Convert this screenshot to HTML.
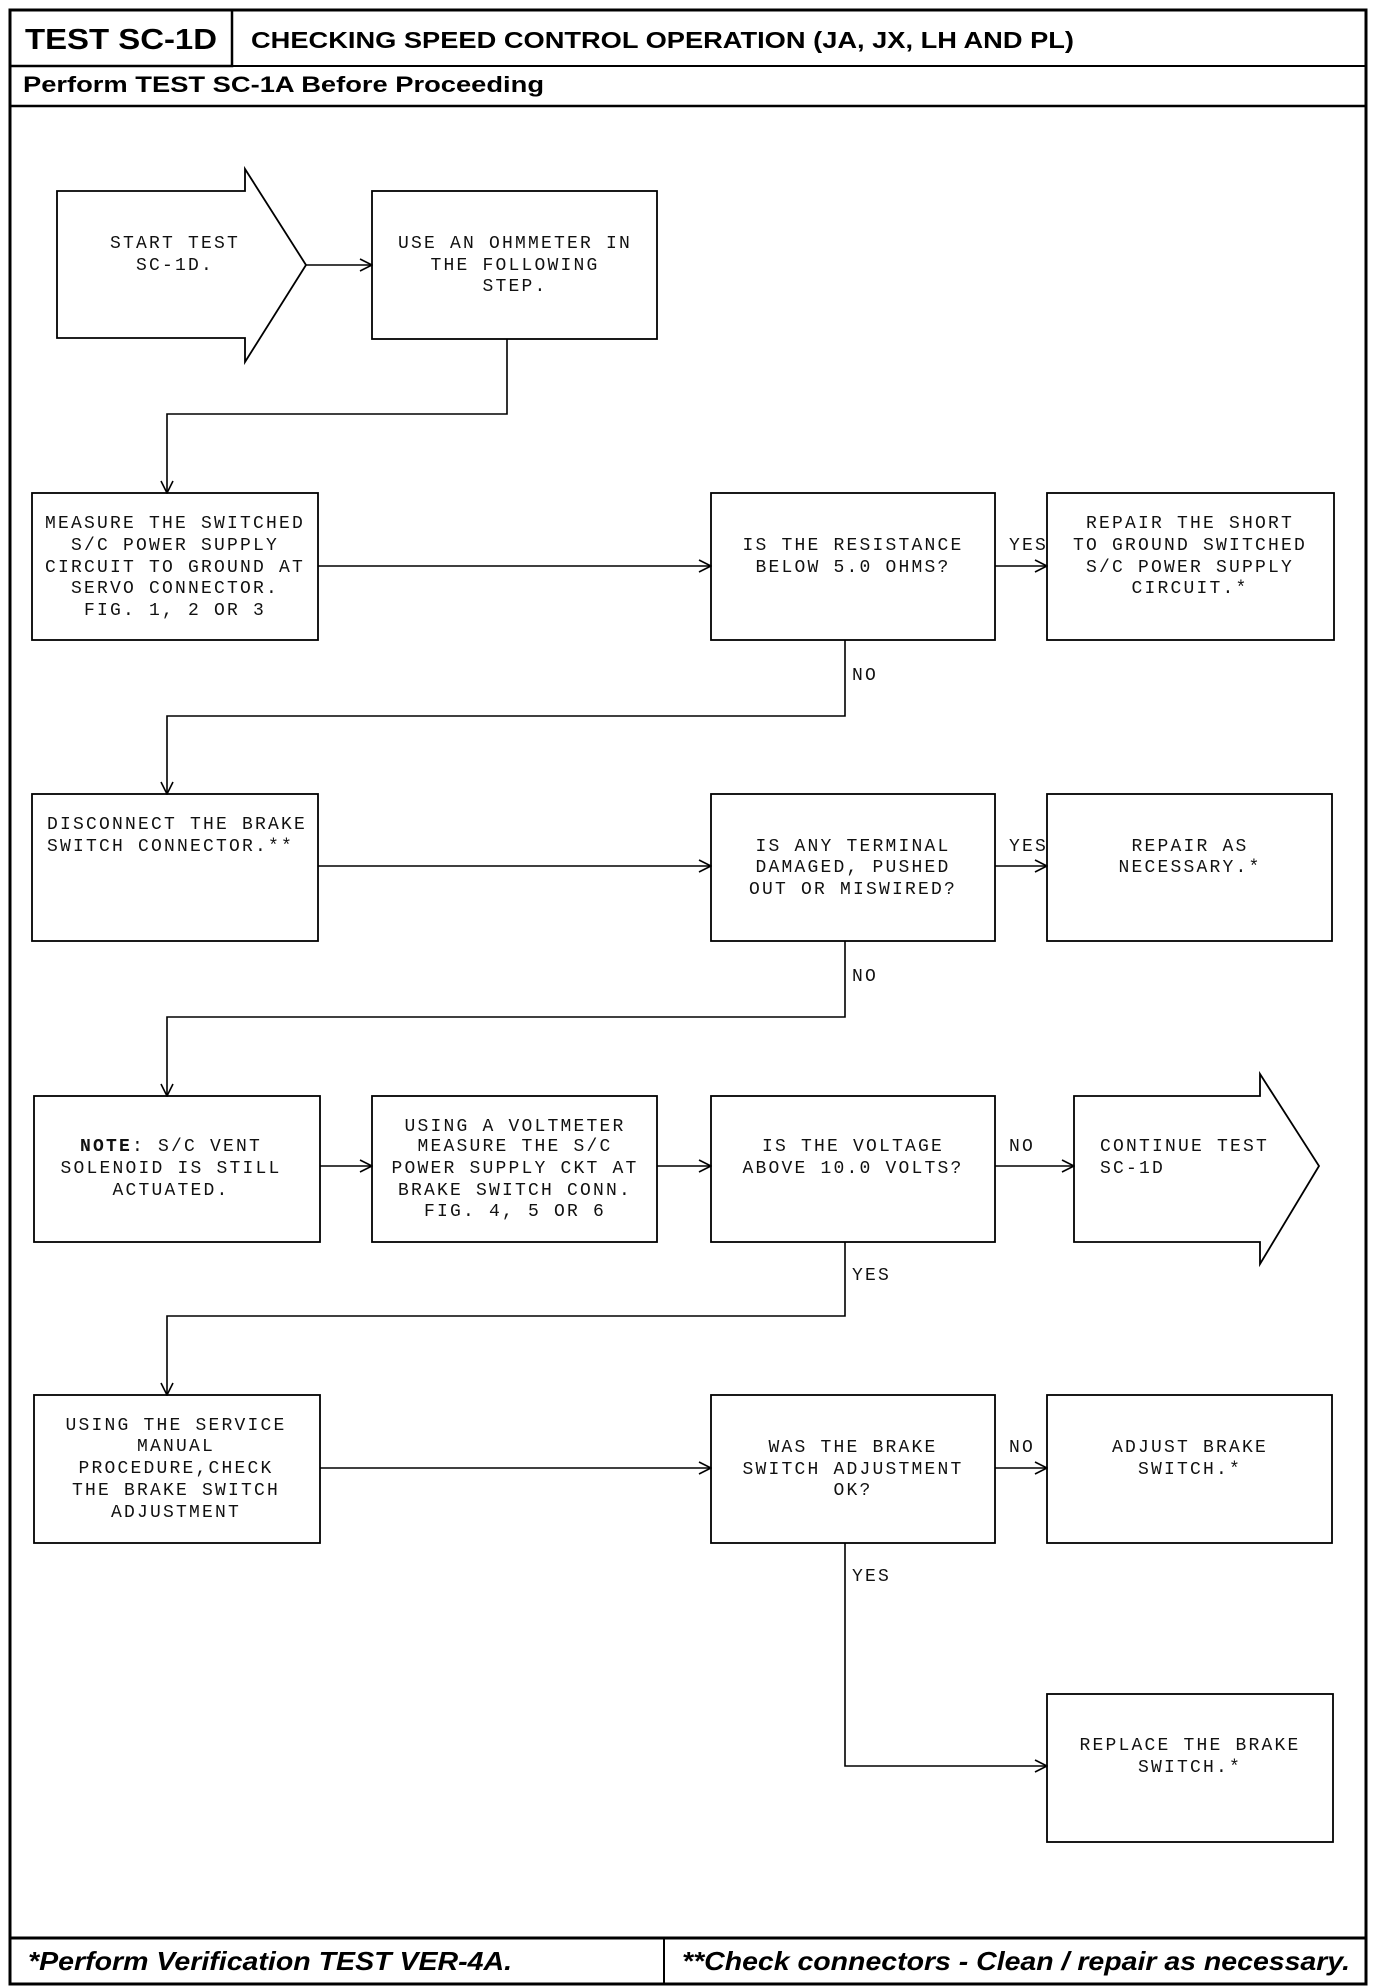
<!DOCTYPE html>
<html><head><meta charset="utf-8"><style>
html,body{margin:0;padding:0;background:#fff;}
svg{display:block;}
.m{font-family:"Liberation Mono",monospace;font-size:18px;letter-spacing:2.2px;fill:#111;}
.c{text-anchor:middle;}
.h{font-family:"Liberation Sans",sans-serif;font-weight:bold;fill:#000;}
</style></head><body>
<svg width="1376" height="1988" viewBox="0 0 1376 1988" xmlns="http://www.w3.org/2000/svg">
<defs>
<marker id="a" markerWidth="14" markerHeight="14" refX="13" refY="7" orient="auto" markerUnits="userSpaceOnUse">
<polyline points="1,1 13,7 1,13" fill="none" stroke="#000" stroke-width="1.6"/>
</marker>
</defs>
<g fill="none" stroke="#000">
<rect x="10" y="10" width="1356" height="1974" stroke-width="3"/>
<rect x="10" y="10" width="222" height="56" stroke-width="2.5"/>
<line x1="10" y1="66" x2="1366" y2="66" stroke-width="2"/>
<line x1="10" y1="106" x2="1366" y2="106" stroke-width="2.5"/>
<line x1="10" y1="1938" x2="1366" y2="1938" stroke-width="3"/>
<line x1="664" y1="1938" x2="664" y2="1984" stroke-width="2"/>
</g>
<text class="h" x="25" y="49" font-size="29" textLength="192" lengthAdjust="spacingAndGlyphs">TEST SC-1D</text>
<text class="h" x="251" y="48" font-size="23" textLength="823" lengthAdjust="spacingAndGlyphs">CHECKING SPEED CONTROL OPERATION (JA, JX, LH AND PL)</text>
<text class="h" x="23" y="92" font-size="22" textLength="521" lengthAdjust="spacingAndGlyphs">Perform TEST SC-1A Before Proceeding</text>
<text class="h" x="28" y="1970" font-size="26" font-style="italic" textLength="484" lengthAdjust="spacingAndGlyphs">*Perform Verification TEST VER-4A.</text>
<text class="h" x="682" y="1970" font-size="26" font-style="italic" textLength="668" lengthAdjust="spacingAndGlyphs">**Check connectors - Clean / repair as necessary.</text>

<g fill="none" stroke="#000" stroke-width="1.8">
<polygon points="57,191 245,191 245,169 306,265 245,362 245,338 57,338"/>
<rect x="372" y="191" width="285" height="148"/>
<rect x="32" y="493" width="286" height="147"/>
<rect x="711" y="493" width="284" height="147"/>
<rect x="1047" y="493" width="287" height="147"/>
<rect x="32" y="794" width="286" height="147"/>
<rect x="711" y="794" width="284" height="147"/>
<rect x="1047" y="794" width="285" height="147"/>
<rect x="34" y="1096" width="286" height="146"/>
<rect x="372" y="1096" width="285" height="146"/>
<rect x="711" y="1096" width="284" height="146"/>
<polygon points="1074,1096 1260,1096 1260,1074 1319,1166 1260,1264 1260,1242 1074,1242"/>
<rect x="34" y="1395" width="286" height="148"/>
<rect x="711" y="1395" width="284" height="148"/>
<rect x="1047" y="1395" width="285" height="148"/>
<rect x="1047" y="1694" width="286" height="148"/>
</g>
<g fill="none" stroke="#000" stroke-width="1.6" marker-end="url(#a)">
<line x1="306" y1="265" x2="372" y2="265"/>
<polyline points="507,339 507,414 167,414 167,493"/>
<line x1="318" y1="566" x2="711" y2="566"/>
<line x1="995" y1="566" x2="1047" y2="566"/>
<polyline points="845,640 845,716 167,716 167,794"/>
<line x1="318" y1="866" x2="711" y2="866"/>
<line x1="995" y1="866" x2="1047" y2="866"/>
<polyline points="845,941 845,1017 167,1017 167,1096"/>
<line x1="320" y1="1166" x2="372" y2="1166"/>
<line x1="657" y1="1166" x2="711" y2="1166"/>
<line x1="995" y1="1166" x2="1074" y2="1166"/>
<polyline points="845,1242 845,1316 167,1316 167,1395"/>
<line x1="320" y1="1468" x2="711" y2="1468"/>
<line x1="995" y1="1468" x2="1047" y2="1468"/>
<polyline points="845,1543 845,1766 1047,1766"/>
</g>

<g class="m c">
<text x="175" y="248">START TEST</text><text x="175" y="270">SC-1D.</text>
<text x="515" y="248">USE AN OHMMETER IN</text><text x="515" y="270">THE FOLLOWING</text><text x="515" y="291">STEP.</text>
<text x="175" y="528">MEASURE THE SWITCHED</text><text x="175" y="550">S/C POWER SUPPLY</text><text x="175" y="572">CIRCUIT TO GROUND AT</text><text x="175" y="593">SERVO CONNECTOR.</text><text x="175" y="615">FIG. 1, 2 OR 3</text>
<text x="853" y="550">IS THE RESISTANCE</text><text x="853" y="572">BELOW 5.0 OHMS?</text>
<text x="1190" y="528">REPAIR THE SHORT</text><text x="1190" y="550">TO GROUND SWITCHED</text><text x="1190" y="572">S/C POWER SUPPLY</text><text x="1190" y="593">CIRCUIT.*</text>
<text x="853" y="851">IS ANY TERMINAL</text><text x="853" y="872">DAMAGED, PUSHED</text><text x="853" y="894">OUT OR MISWIRED?</text>
<text x="1190" y="851">REPAIR AS</text><text x="1190" y="872">NECESSARY.*</text>
<text x="171" y="1151"><tspan font-weight="bold">NOTE</tspan>: S/C VENT</text><text x="171" y="1173">SOLENOID IS STILL</text><text x="171" y="1195">ACTUATED.</text>
<text x="515" y="1131">USING A VOLTMETER</text><text x="515" y="1151">MEASURE THE S/C</text><text x="515" y="1173">POWER SUPPLY CKT AT</text><text x="515" y="1195">BRAKE SWITCH CONN.</text><text x="515" y="1216">FIG. 4, 5 OR 6</text>
<text x="853" y="1151">IS THE VOLTAGE</text><text x="853" y="1173">ABOVE 10.0 VOLTS?</text>
<text x="176" y="1430">USING THE SERVICE</text><text x="176" y="1451">MANUAL</text><text x="176" y="1473">PROCEDURE,CHECK</text><text x="176" y="1495">THE BRAKE SWITCH</text><text x="176" y="1517">ADJUSTMENT</text>
<text x="853" y="1452">WAS THE BRAKE</text><text x="853" y="1474">SWITCH ADJUSTMENT</text><text x="853" y="1495">OK?</text>
<text x="1190" y="1452">ADJUST BRAKE</text><text x="1190" y="1474">SWITCH.*</text>
<text x="1190" y="1750">REPLACE THE BRAKE</text><text x="1190" y="1772">SWITCH.*</text>
</g>
<g class="m">
<text x="47" y="829">DISCONNECT THE BRAKE</text><text x="47" y="851">SWITCH CONNECTOR.**</text>
<text x="1100" y="1151">CONTINUE TEST</text><text x="1100" y="1173">SC-1D</text>
<text x="1009" y="550">YES</text>
<text x="852" y="680">NO</text>
<text x="1009" y="851">YES</text>
<text x="852" y="981">NO</text>
<text x="1009" y="1151">NO</text>
<text x="852" y="1280">YES</text>
<text x="1009" y="1452">NO</text>
<text x="852" y="1581">YES</text>
</g>
</svg>
</body></html>
